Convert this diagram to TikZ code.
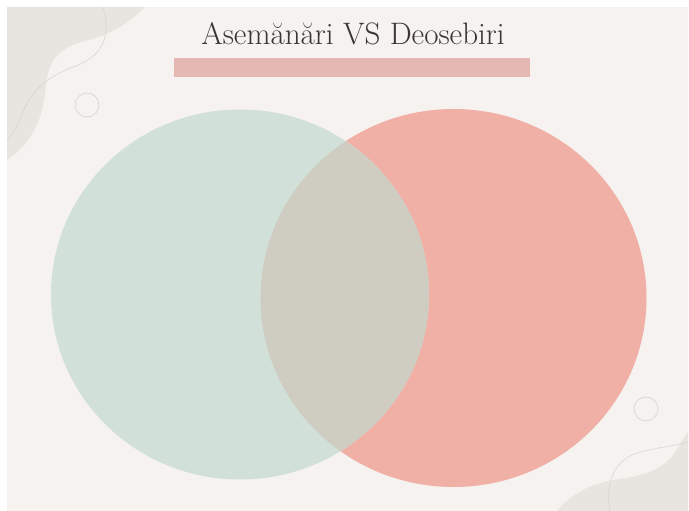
\documentclass[tikz,border=0pt]{standalone}
\usepackage{tikz}

\definecolor{slidebg}{HTML}{F5F2EF}
\definecolor{blobgrey}{HTML}{E8E4E0}
\definecolor{lineg}{HTML}{D6D0CB}
\definecolor{sage}{HTML}{D1E0D8}
\definecolor{salmon}{HTML}{F0B0A6}
\definecolor{overlapc}{HTML}{CFCDC2}
\definecolor{barpink}{HTML}{E5B8B3}
\definecolor{titleink}{HTML}{3A3533}

\begin{document}
\begin{tikzpicture}[x=0.03cm, y=-0.03cm,
    blob/.style={fill=blobgrey},
    thinline/.style={draw=lineg, line width=0.4pt},
    ring/.style={draw=lineg, line width=0.5pt}]
                % frame and slide
                \fill[white] (0,0) rectangle (689,511);
                \useasboundingbox (0,0) rectangle (689,511);
                \fill[slidebg] (7,7) rectangle (688,511);
                % top left blob
                \fill[blob] (7,7) -- (145,7) .. controls (132,20) and (112,35) .. (85,41)
                    .. controls (60,47) and (48,60) .. (46,85)
                    .. controls (43,115) and (36,140) .. (7,160) -- cycle;
                \draw[thinline] (103,7) .. controls (110,30) and (108,55) .. (73,67)
                    .. controls (45,78) and (30,92) .. (22,115)
                    .. controls (17,128) and (12,135) .. (7,140);
                \draw[ring] (87,105) circle (12);
                % bottom right blob
                \fill[blob] (557,511) .. controls (570,495) and (590,483) .. (620,479)
                    .. controls (650,475) and (668,465) .. (676,451)
                    .. controls (680,444) and (684,437) .. (688,432) -- (688,511) -- cycle;
                \draw[thinline] (610,511) .. controls (606,490) and (610,465) .. (632,455)
                    .. controls (650,448) and (670,447) .. (688,442);
                \draw[ring] (646,409) circle (12);
                % title
                \fill[barpink] (174,58) rectangle (530,77);
                \node[text=titleink, font=\fontsize{26.5}{30}\selectfont, anchor=base] (title) at (353,45) {Asemănări VS Deosebiri};
                % venn
                \fill[salmon] (453.5,298) ellipse (193 and 189);
                \fill[sage] (240,294.5) ellipse (189 and 185);
                \begin{scope}
                    \clip (453.5,298) ellipse (193 and 189);
                    \fill[overlapc] (240,294.5) ellipse (189 and 185);
                \end{scope}
            \end{tikzpicture}
\end{document}
